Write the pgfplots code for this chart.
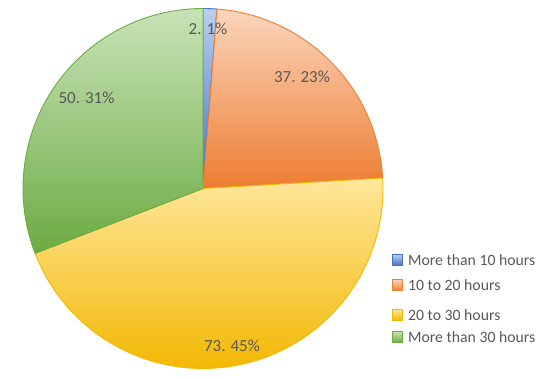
\documentclass[border=0pt]{standalone}
\usepackage{pgfplots}
\usepackage{pgfplotstable}
\pgfplotsset{compat=1.18}
\usepackage{fontspec}
\setmainfont{Carlito}

\definecolor{blueL}{HTML}{BACFEF}\definecolor{blueD}{HTML}{4472C4}
\definecolor{orgL}{HTML}{FBD5BC}\definecolor{orgD}{HTML}{ED7D31}
\definecolor{yelL}{HTML}{FFE79C}\definecolor{yelD}{HTML}{F2B700}
\definecolor{grnL}{HTML}{C8E3B7}\definecolor{grnD}{HTML}{6CAB43}
\definecolor{txt}{HTML}{595959}

\pgfplotstableread[col sep=comma]{
label,value,pct
More than 10 hours,2,1
10 to 20 hours,37,23
20 to 30 hours,73,45
More than 30 hours,50,31
}\piedata

\begin{document}
\begin{tikzpicture}
\pgfplotstablegetelem{0}{value}\of\piedata\let\vA\pgfplotsretval
\pgfplotstablegetelem{1}{value}\of\piedata\let\vB\pgfplotsretval
\pgfplotstablegetelem{2}{value}\of\piedata\let\vC\pgfplotsretval
\pgfplotstablegetelem{3}{value}\of\piedata\let\vD\pgfplotsretval
\pgfplotstablegetelem{0}{pct}\of\piedata\let\pA\pgfplotsretval
\pgfplotstablegetelem{1}{pct}\of\piedata\let\pB\pgfplotsretval
\pgfplotstablegetelem{2}{pct}\of\piedata\let\pC\pgfplotsretval
\pgfplotstablegetelem{3}{pct}\of\piedata\let\pD\pgfplotsretval
\pgfplotstablegetelem{0}{label}\of\piedata\let\lA\pgfplotsretval
\pgfplotstablegetelem{1}{label}\of\piedata\let\lB\pgfplotsretval
\pgfplotstablegetelem{2}{label}\of\piedata\let\lC\pgfplotsretval
\pgfplotstablegetelem{3}{label}\of\piedata\let\lD\pgfplotsretval
\pgfmathsetmacro\tot{\vA+\vB+\vC+\vD}
\pgfmathsetmacro\unitang{360/\tot}
\pgfmathsetmacro\aO{90}
\pgfmathsetmacro\aA{\aO-\unitang*\vA}
\pgfmathsetmacro\aB{\aA-\unitang*\vB}
\pgfmathsetmacro\aC{\aB-\unitang*\vC}
\pgfmathsetmacro\aD{\aC-\unitang*\vD}
\begin{axis}[
  scale only axis, width=552bp, height=379bp,
  xmin=0, xmax=552, ymin=0, ymax=379,
  hide axis, clip=false,
]
\path[use as bounding box] (axis cs:0,0) rectangle (axis cs:552,379);
% slices
\draw[line width=0.9pt, draw=blueD, top color=blueL, bottom color=blueD, line join=round]
  (axis cs:203,190.5) -- ++(\aO:180bp) arc[start angle=\aO, end angle=\aA, radius=180bp] -- cycle;
\draw[line width=0.9pt, draw=orgD, top color=orgL, bottom color=orgD, line join=round]
  (axis cs:203,190.5) -- ++(\aA:180bp) arc[start angle=\aA, end angle=\aB, radius=180bp] -- cycle;
\draw[line width=0.9pt, draw=yelD, top color=yelL, bottom color=yelD, line join=round]
  (axis cs:203,190.5) -- ++(\aB:180bp) arc[start angle=\aB, end angle=\aC, radius=180bp] -- cycle;
\draw[line width=0.9pt, draw=grnD, top color=grnL, bottom color=grnD, line join=round]
  (axis cs:203,190.5) -- ++(\aC:180bp) arc[start angle=\aC, end angle=\aD, radius=180bp] -- cycle;
% data labels
\begin{scope}[every node/.style={text=txt, font=\fontsize{17}{20}\selectfont, inner sep=0pt}]
\node at (axis cs:208,350) {\vA. \pA\%};
\node at (axis cs:302,302) {\vB. \pB\%};
\node at (axis cs:232,33.5) {\vC. \pC\%};
\node at (axis cs:86.5,281) {\vD. \pD\%};
\end{scope}
% legend
\begin{scope}[every node/.style={text=txt, font=\fontsize{15.8}{18}\selectfont, inner sep=0pt, anchor=west}]
\draw[line width=0.8pt, draw=blueD, top color=blueL, bottom color=blueD] (axis cs:392.5,113.5) rectangle (axis cs:402.5,124.5);
\node at (axis cs:408,119) {\lA};
\draw[line width=0.8pt, draw=orgD, top color=orgL, bottom color=orgD] (axis cs:392.5,88.5) rectangle (axis cs:402.5,99.5);
\node at (axis cs:408,94) {\lB};
\draw[line width=0.8pt, draw=yelD, top color=yelL, bottom color=yelD] (axis cs:392.5,58.5) rectangle (axis cs:402.5,69.5);
\node at (axis cs:408,64) {\lC};
\draw[line width=0.8pt, draw=grnD, top color=grnL, bottom color=grnD] (axis cs:392.5,36.5) rectangle (axis cs:402.5,47.5);
\node at (axis cs:408,42) {\lD};
\end{scope}
\end{axis}
\end{tikzpicture}
\end{document}
